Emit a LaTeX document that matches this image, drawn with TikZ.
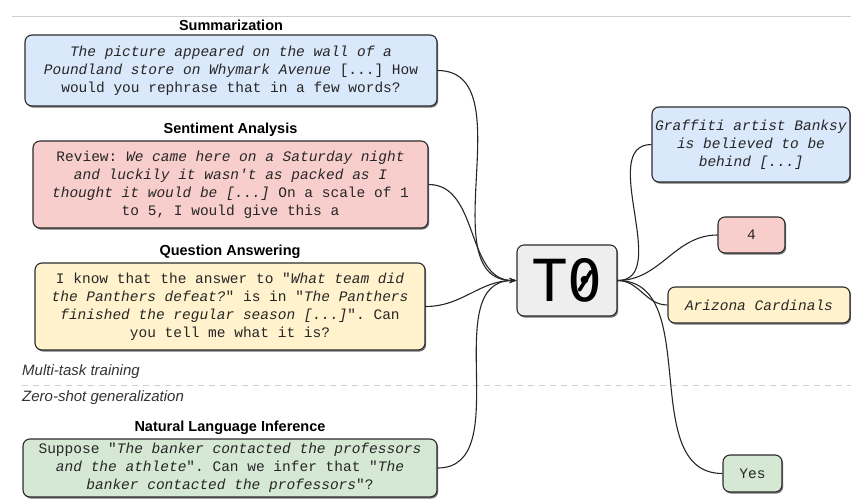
\documentclass[tikz,border=0pt]{standalone}
\usepackage{fontspec}
\setmainfont{Liberation Sans}
\setmonofont{Liberation Mono}
\newfontfamily\bigmono{DejaVu Sans Mono}
\usetikzlibrary{shadows,arrows.meta}

\definecolor{inblue}{HTML}{DAE8FC}
\definecolor{inred}{HTML}{F8CECC}
\definecolor{inyellow}{HTML}{FFF2CC}
\definecolor{ingreen}{HTML}{D5E8D4}
\definecolor{modelgray}{HTML}{EEEEEE}
\definecolor{edgegray}{HTML}{2B2B2B}
\definecolor{rulegray}{HTML}{D0D0D0}

\tikzset{
  card/.style={draw=edgegray, line width=1.1pt, rounded corners=7pt,
    inner sep=0pt, align=center, text=black!85,
    font=\fontsize{14.5}{18}\ttfamily,
    drop shadow={shadow xshift=1.2pt, shadow yshift=-1.6pt, fill=black, opacity=0.55}},
  tasklabel/.style={anchor=south, inner sep=0pt, font=\fontsize{14.5}{17}\bfseries},
  phase/.style={anchor=west, inner sep=0pt, text=black!80, font=\fontsize{15}{18}\itshape},
  conn/.style={draw=black!85, line width=1.1pt},
  feed/.style={conn, -{Stealth[length=7pt,width=5pt]}}
}

\begin{document}
\begin{tikzpicture}[x=1pt,y=-1pt]
  \useasboundingbox (0,0) rectangle (851,501);

  % rules and phase captions
  \draw[rulegray, line width=1pt] (12,16) -- (851,16);
  \draw[rulegray, line width=1pt, dashed, dash pattern=on 6pt off 5pt] (22,385) -- (851,385);
  \node[phase] (mt) at (22,372) {Multi-task training};
  \node[phase] (zs) at (22,398) {Zero-shot generalization};

  % prompted inputs
  \node[card, fill=inblue, minimum width=412pt, minimum height=71pt] (summ) at (231,70.5)
    {\textit{The picture appeared on the wall of a}\\
     \textit{Poundland store on Whymark Avenue} [...] How\\
     would you rephrase that in a few words?};
  \node[tasklabel] (summl) at (231,31) {Summarization};

  \node[card, fill=inred, minimum width=395pt, minimum height=87pt] (sent) at (230.5,184.5)
    {Review: \textit{We came here on a Saturday night}\\
     \textit{and luckily it wasn't as packed as I}\\
     \textit{thought it would be [...]} On a scale of 1\\
     to 5, I would give this a};
  \node[tasklabel] (sentl) at (230.5,137) {Sentiment Analysis};

  \node[card, fill=inyellow, minimum width=390pt, minimum height=87pt] (qa) at (230,306.5)
    {I know that the answer to "\textit{What team did}\\
     \textit{the Panthers defeat?}" is in "\textit{The Panthers}\\
     \textit{finished the regular season [...]}". Can\\
     you tell me what it is?};
  \node[tasklabel] (qal) at (230,259) {Question Answering};

  \node[card, fill=ingreen, minimum width=414pt, minimum height=58pt] (nli) at (230,468)
    {Suppose "\textit{The banker contacted the professors}\\
     \textit{and the athlete}". Can we infer that "\textit{The}\\
     \textit{banker contacted the professors}"?};
  \node[tasklabel] (nlil) at (230,435) {Natural Language Inference};

  % model, with a slashed zero
  \node[card, fill=modelgray, minimum width=100pt, minimum height=71pt,
        font=\fontsize{58}{60}\bigmono, text=black] (t0) at (567,280.5) {T0};
  \draw[black, line width=3.6pt, line cap=round]
    ([shift={(12.5,9.5)}]t0.center) -- ([shift={(24,-9)}]t0.center);

  % outputs
  \node[card, fill=inblue, minimum width=198pt, minimum height=75pt] (osumm) at (751,144.5)
    {\textit{Graffiti artist Banksy}\\ \textit{is believed to be}\\ \textit{behind [...]}};
  \node[card, fill=inred, minimum width=67pt, minimum height=36pt] (osent) at (751.5,235) {4};
  \node[card, fill=inyellow, minimum width=182pt, minimum height=36pt] (oqa) at (759,305)
    {\textit{Arizona Cardinals}};
  \node[card, fill=ingreen, minimum width=59pt, minimum height=37pt] (onli) at (752.5,473.5) {Yes};

  % connectors into the model
  \draw[feed] (summ.east) to[out=0,in=180] (t0.west);
  \draw[feed] (sent.east) to[out=0,in=180] (t0.west);
  \draw[feed] (qa.east) to[out=0,in=180] (t0.west);
  \draw[feed] (nli.east) to[out=0,in=180] (t0.west);

  % connectors out of the model
  \draw[conn] (t0.east) to[out=0,in=180] (osumm.west);
  \draw[conn] (t0.east) to[out=0,in=180] (osent.west);
  \draw[conn] (t0.east) to[out=0,in=180] (oqa.west);
  \draw[conn] (t0.east) to[out=0,in=180] (onli.west);
\end{tikzpicture}
\end{document}
